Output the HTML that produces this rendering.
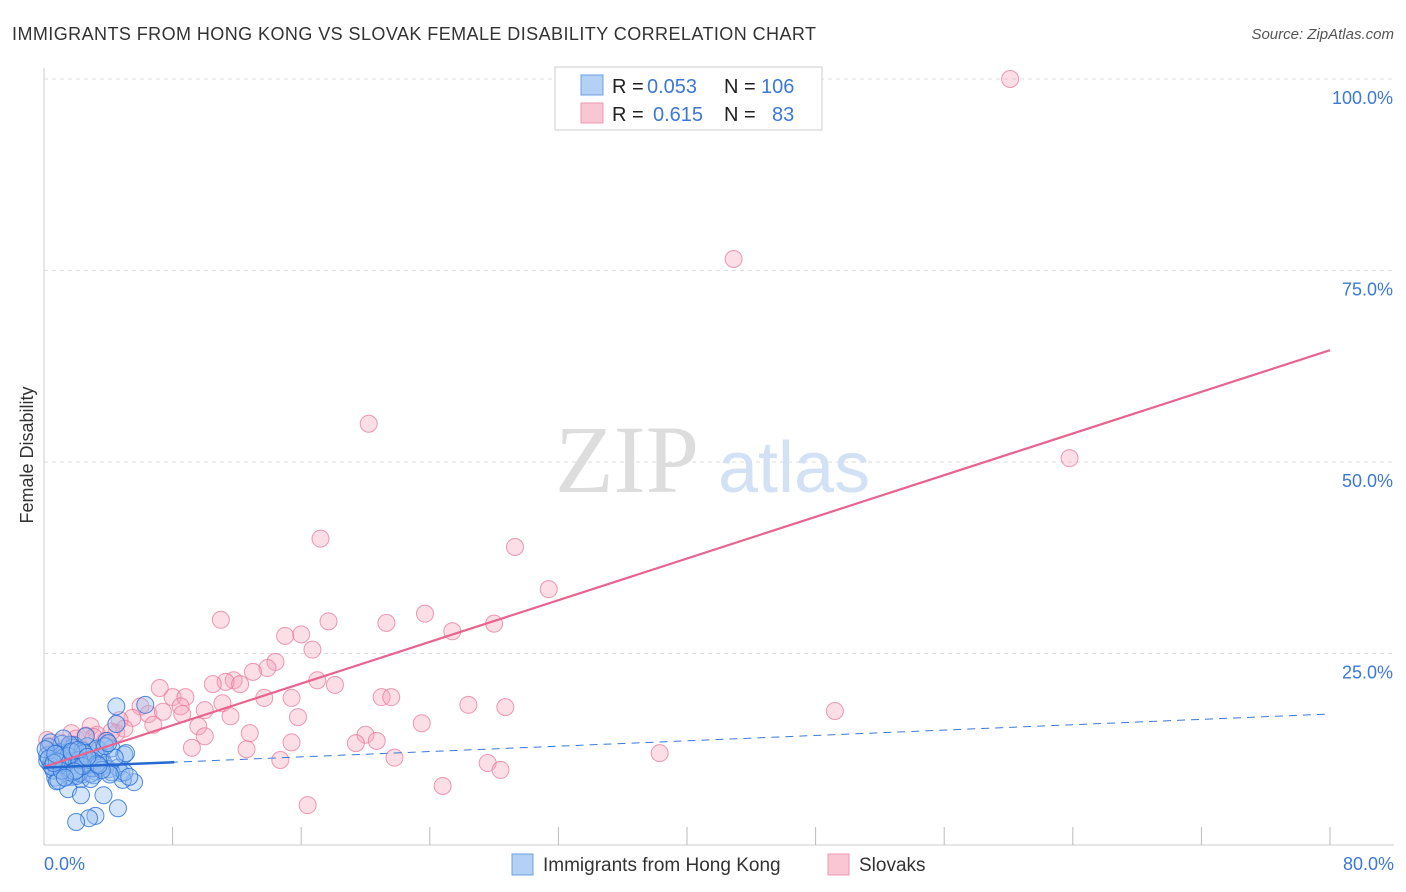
<!DOCTYPE html>
<html><head><meta charset="utf-8"><style>
body{margin:0;background:#fff;font-family:"Liberation Sans",sans-serif;}
svg{display:block}
</style></head><body>
<svg id="chart" width="1406" height="892">
<text x="12" y="40" font-size="18" fill="#333" textLength="804">IMMIGRANTS FROM HONG KONG VS SLOVAK FEMALE DISABILITY CORRELATION CHART</text>
<text x="1394" y="39" font-size="15" fill="#555" font-style="italic" text-anchor="end">Source: ZipAtlas.com</text>
<text transform="translate(33,455) rotate(-90)" font-size="18" fill="#333" text-anchor="middle">Female Disability</text>
<g id="grid"></g>
<text x="555" y="492" font-size="96" fill="#ddd" font-family="Liberation Serif,serif">ZIP</text>
<text x="718" y="492" font-size="72" fill="#d3e1f5">atlas</text>
<g id="pts"></g>
<g id="lines"></g>
<g>
<rect x="555" y="67" width="267" height="63" fill="#fff" stroke="#ccc"/>
<rect x="581" y="75" width="22" height="20" fill="#b3d0f5" stroke="#6fa0e0"/>
<rect x="581" y="103" width="22" height="20" fill="#f9c6d4" stroke="#ec9ab2"/>
<text y="93" font-size="20" fill="#222"><tspan x="612">R =</tspan><tspan x="647" fill="#3c78d8">0.053</tspan><tspan x="724">N =</tspan><tspan x="761" fill="#3c78d8">106</tspan></text>
<text y="121" font-size="20" fill="#222"><tspan x="612">R =</tspan><tspan x="653" fill="#3c78d8">0.615</tspan><tspan x="724">N =</tspan><tspan x="772" fill="#3c78d8">83</tspan></text>
</g>
<g>
<rect x="512" y="854" width="21" height="21" fill="#b3d0f5" stroke="#6fa0e0"/>
<text x="543" y="871" font-size="19" fill="#333">Immigrants from Hong Kong</text>
<rect x="828" y="854" width="21" height="21" fill="#f9c6d4" stroke="#ec9ab2"/>
<text x="859" y="871" font-size="19" fill="#333">Slovaks</text>
</g>
</svg>
<script>
const xTicks=[0,10,20,30,40,50,60,70,80];
const yTicks=[25,50,75,100];
const blueX=[0.2,0.4,0.6,0.8,1,1.2,1.4,1.6,1.8,2,2.2,2.4,2.6,2.8,3,3.2,3.4,3.6,3.8,4,0.3,0.7,1.1,1.5,1.9,2.3,2.7,3.1,3.5,0.5,0.9,1.3,1.7,2.1,2.5,2.9,3.3,0.2,0.6,1,1.4,1.8,2.2,2.6,3,0.4,0.8,1.2,1.6,2,2.4,2.8,1,1.5,2,2.5,3,3.5,4.2,4.6,5,4.8,4.5,6.3,5.1,5.6,4.9,3.7,4.6,3.2,2.8,2,1.5,2.3,0.9,4.2,5,4.5,3.9,2.6,1.2,0.1,0.3,0.5,3.3,4.1,5.3,2.2,1.7,0.8,3.6,2.9,1.1,0.6,4.4,3.8,2.4,1.9,1.3,0.7,2.1,3.4,4.0,2.7];
const blueY=[11,10.5,12,9.8,11.5,10,12.5,9.5,11,10.8,12.2,9.2,10.6,11.8,10.2,9.6,12.4,11.2,10.4,9.9,12.8,8.8,13.2,9,13,8.6,12.9,9.1,11.6,10.9,11.9,10.1,8.9,11.3,10.3,9.3,12.6,11.7,9.7,12.1,10.7,12.7,9.4,11.1,10,13.4,8.3,11.4,13.1,9,12.3,10.5,10.8,11.6,9.8,12,11,10.1,12.6,10.1,11.8,9.4,18.1,18.3,12,8.2,8.5,6.5,4.8,3.8,3.5,3,7.3,6.5,8.4,9.5,9.5,15.8,13.6,14.2,13.9,12.5,11.3,10.2,10.6,9.2,8.9,11.1,12.2,10.9,9.8,8.6,9.7,10.7,11.4,12.9,10.3,9.6,8.8,11.9,12.4,10.4,13.3,11.5,10.8,9.5];
const pinkX=[60.1,42.9,20.2,17.2,29.3,63.8,31.4,23.7,21.3,17.7,11,25.4,28,16,15,16.7,14.4,13.9,13,11.8,11.3,10.5,12.2,17,18.1,7.2,8,8.8,13.7,15.4,21,21.6,8.5,10,11.1,6,26.4,28.7,49.2,6.5,7.4,8.6,11.6,15.8,5.5,4.7,23.5,6.8,9.6,2.9,12.8,10,4.5,3.3,1.7,20,19.4,20.7,15.4,9.2,12.6,38.3,21.8,14.7,27.6,28.4,24.8,16.4,0.2,1,1.4,2,2.6,0.5,3.8,4.2,1.2,2.3,0.8,0.3,1.8,3.1,5];
const pinkY=[100,76.5,55,40,38.9,50.5,33.4,30.2,29,29.2,29.4,27.9,28.9,27.5,27.3,25.5,23.9,23.1,22.6,21.5,21.3,21,21,21.5,20.9,20.5,19.3,19.3,19.2,19.2,19.3,19.3,18.1,17.6,18.5,18.1,18.3,18,17.5,17.1,17.4,17.1,16.8,16.7,16.6,16.3,15.9,15.7,15.5,15.5,14.6,14.2,14.6,14.4,14.6,14.4,13.3,13.6,13.4,12.7,12.5,12,11.4,11.1,10.7,9.8,7.7,5.2,13.7,13.4,12.8,13.9,14.3,12.2,13.6,14.8,11.9,12.6,11.5,12.9,13.1,14.1,15.2];
const blueFit=[10.1,17.1];
const pinkFit=[10.2,64.6];
const X=v=>44+v/80*1286, Y=v=>845-v/100*766;
const NS='http://www.w3.org/2000/svg';
function mk(t,a,p){const e=document.createElementNS(NS,t);for(const k in a)e.setAttribute(k,a[k]);p.appendChild(e);return e;}
const grid=document.getElementById('grid');
mk('line',{x1:44,y1:68,x2:44,y2:845,stroke:'#ccc'},grid);
mk('line',{x1:44,y1:845,x2:1394,y2:845,stroke:'#ccc'},grid);
yTicks.forEach(v=>{
 const l=mk('line',{x1:44,y1:Y(v),x2:1394,y2:Y(v),stroke:'#ddd','stroke-dasharray':'4,4'},grid);
 
 
 const t=mk('text',{x:1393,y:Y(v)+25,'font-size':18,fill:'#3c78d8','text-anchor':'end'},grid);
 t.textContent=v.toFixed(1)+'%';
 
 
});
for(let i=1;i<=10;i++){const v=i*8;const l=mk('line',{x1:X(v),y1:827,x2:X(v),y2:845,stroke:'#bbb'},grid);
 
 }
[[0,'start',44],[80,'end',1394]].forEach(([v,a,x])=>{const t=mk('text',{x:x,y:870,'font-size':18,fill:'#3c78d8','text-anchor':a},grid);t.textContent=v.toFixed(1)+'%';
 
 });
const pts=document.getElementById('pts');
pinkX.forEach((x,i)=>{const c=mk('circle',{cx:X(x),cy:Y(pinkY[i]),r:8.5,fill:'rgba(245,160,185,0.35)',stroke:'rgba(232,120,155,0.75)','stroke-width':1},pts);
 
 });
blueX.forEach((x,i)=>{const c=mk('circle',{cx:X(x),cy:Y(blueY[i]),r:8.5,fill:'rgba(150,190,240,0.4)',stroke:'rgba(40,110,215,0.8)','stroke-width':1},pts);
 
 });
const lines=document.getElementById('lines');
const pl=mk('line',{x1:X(0),y1:Y(pinkFit[0]),x2:X(80),y2:Y(pinkFit[1]),stroke:'#e8648e','stroke-width':2.2},lines);


const bd=mk('line',{x1:X(0),y1:Y(blueFit[0]),x2:X(80),y2:Y(blueFit[1]),stroke:'#3c78d8','stroke-width':1,'stroke-dasharray':'8,6'},lines);


const b8=8.1,by=blueFit[0]+(blueFit[1]-blueFit[0])*b8/80;
const bs=mk('line',{x1:X(0),y1:Y(blueFit[0]),x2:X(b8),y2:Y(by),stroke:'#2468d0','stroke-width':2.5},lines);


</script>
</body></html>
